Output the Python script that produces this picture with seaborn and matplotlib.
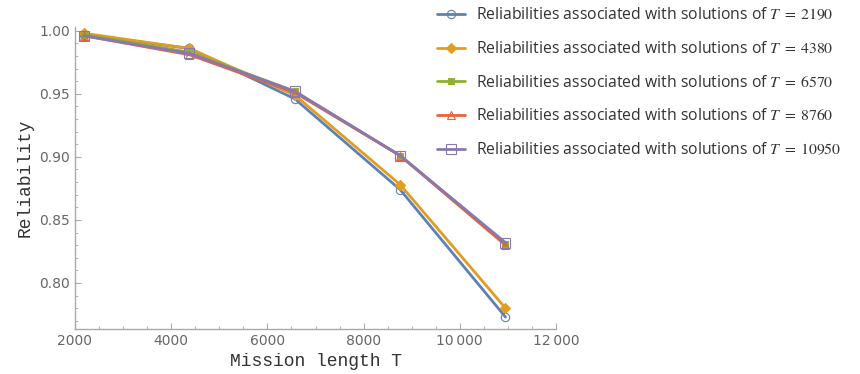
import numpy as np
import pandas as pd
import matplotlib
matplotlib.use("Agg")
import matplotlib.pyplot as plt
import seaborn as sns

sns.set_style("white")
plt.rcParams['mathtext.fontset'] = 'stix'

# mission lengths (x values)
mission_T = [2190, 4380, 6570, 8760, 10950]

# reliabilities for solutions optimised at each T
rel_2190 = [0.997, 0.986, 0.946, 0.874, 0.773]
rel_4380 = [0.998, 0.986, 0.949, 0.878, 0.780]
rel_6570 = [0.997, 0.983, 0.952, 0.901, 0.831]
rel_8760 = [0.996, 0.981, 0.951, 0.901, 0.830]
rel_10950 = [0.996, 0.982, 0.952, 0.901, 0.832]

series = [("2190", rel_2190), ("4380", rel_4380), ("6570", rel_6570),
          ("8760", rel_8760), ("10950", rel_10950)]

colors = ["#5E81B5", "#E19C24", "#8FB032", "#EB6235", "#8778B3"]
markers = ["o", "D", "s", "^", "s"]
filled = [False, True, True, False, False]
msizes = [6, 5, 5, 6, 7]

fig = plt.figure(figsize=(8.6, 3.74), dpi=100)
ax = fig.add_axes([75/860, 45/374, 481/860, 302/374])

for (lab, vals), c, m, f, ms in zip(series, colors, markers, filled, msizes):
    df = pd.DataFrame({"T": mission_T, "R": vals})
    sns.lineplot(data=df, x="T", y="R", ax=ax, color=c, lw=2,
                 marker=m, markersize=ms,
                 markerfacecolor=c if f else "none",
                 markeredgecolor=c, markeredgewidth=0.8,
                 label="Reliabilities associated with solutions of $T\\;=\\;" + lab + "$")

ax.set_xlim(2000, 12000)
ax.set_ylim(0.7635, 1.003)
ax.set_xticks([2000, 4000, 6000, 8000, 10000, 12000])
ax.set_xticklabels(["2000", "4000", "6000", "8000", "10\u2009000", "12\u2009000"])
ax.set_yticks([0.80, 0.85, 0.90, 0.95, 1.00])
ax.set_yticklabels(["0.80", "0.85", "0.90", "0.95", "1.00"])
ax.xaxis.set_minor_locator(matplotlib.ticker.MultipleLocator(500))
ax.yaxis.set_minor_locator(matplotlib.ticker.MultipleLocator(0.01))

for s in ["top", "right"]:
    ax.spines[s].set_visible(False)
for s in ["left", "bottom"]:
    ax.spines[s].set_color("#aaaaaa")
    ax.spines[s].set_linewidth(1)
ax.tick_params(which="both", direction="in", colors="#aaaaaa", labelcolor="#666666",
               labelsize=10, bottom=True, left=True)
ax.tick_params(which="major", length=4)
ax.tick_params(which="minor", length=2)

ax.set_xlabel("Mission length T", family="Liberation Mono", fontsize=13, color="#333333")
ax.set_ylabel("Reliability", family="Liberation Mono", fontsize=13, color="#333333")

handles, labels = ax.get_legend_handles_labels()
ax.get_legend().remove()
leg = fig.legend(handles, labels, loc="upper left", bbox_to_anchor=(437/860, 1 - 7/374),
                 frameon=False, prop={"family": "Open Sans", "size": 11.3},
                 handlelength=1.8, labelspacing=1.12, handletextpad=0.7,
                 borderpad=0, borderaxespad=0)
for t in leg.get_texts():
    t.set_color("#333333")

fig.savefig("out.png", dpi=100)
